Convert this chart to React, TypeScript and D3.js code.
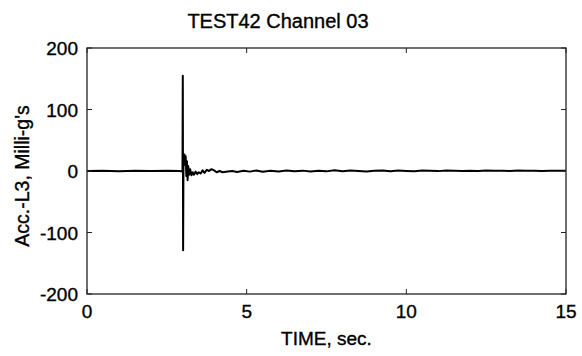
import React from "react";
import * as d3 from "d3";

const TITLE = "TEST42 Channel 03";
const X_LABEL = "TIME, sec.";
const Y_LABEL = "Acc.-L3, Milli-g's";
const X_TICKS = [0, 5, 10, 15];
const Y_TICKS = [-200, -100, 0, 100, 200];

const TIME = [
  0, 0.5, 1.0, 1.5, 2.0, 2.5, 2.9, 2.99, 3.0, 3.01,
  3.02, 3.03, 3.05, 3.07, 3.09, 3.11, 3.13, 3.15, 3.17, 3.2,
  3.23, 3.27, 3.31, 3.35, 3.4, 3.45, 3.5, 3.56, 3.62, 3.68,
  3.75, 3.82, 3.9, 3.98, 4.06, 4.15, 4.25, 4.4, 4.55, 4.7,
  4.9, 5.1, 5.3, 5.5, 5.75, 6.0, 6.25, 6.5, 6.75, 7.0,
  7.25, 7.5, 7.75, 8.0, 8.25, 8.5, 8.75, 9.0, 9.25, 9.5,
  9.75, 10.0, 10.25, 10.5, 10.75, 11.0, 11.25, 11.5, 11.75, 12.0,
  12.25, 12.5, 12.75, 13.0, 13.25, 13.5, 13.75, 14.0, 14.25, 14.5,
  14.75, 15.0,
];
const ACC = [
  0, 0.5, -0.3, 0.4, -0.2, 0.3, 0, -1, 155, -129,
  6, 18, 27, 10, 24, -8, 16, -15, 8, -6,
  3, -7, -2, -6, -1, -5, -2, -4, 1, -3,
  2, 0, 3, 1, -2, 0, -2, -1, 0, -1.5,
  0.5, -1, 0.8, -1.2, 0.3, -0.8, 1, -0.5, 0.6, -1,
  0.4, -0.6, 1.2, -0.4, 0.8, 0, -0.9, 0.5, 1, -0.3,
  0.7, 0.2, -0.5, 0.9, 0.4, -0.2, 0.8, 0.5, 0.1, 0.6,
  0.2, 0.9, 0.3, 0.5, 0.1, 0.7, 0.4, 0.6, 0.2, 0.5,
  0.3, 0.4,
];

const W = 582;
const H = 356;
const M = { left: 87, right: 566, top: 48, bottom: 294 };
const FONT = "'Liberation Sans', Arial, sans-serif";
const TXT = { fill: "#000", stroke: "#000", strokeWidth: 0.35 };

export default function App() {
  const x = d3.scaleLinear().domain([0, 15]).range([M.left, M.right]);
  const y = d3.scaleLinear().domain([-200, 200]).range([M.bottom, M.top]);
  const pts: [number, number][] = TIME.map((t, i) => [t, ACC[i]]);
  const line = d3
    .line<[number, number]>()
    .x((d) => x(d[0]))
    .y((d) => y(d[1]));
  const tl = 5;
  return (
    <svg
      width={W}
      height={H}
      style={{ position: "absolute", left: 0, top: 0, background: "#fff" }}
      fontFamily={FONT}
    >
      <rect x={0} y={0} width={W} height={H} fill="#fff" />
      <path d={line(pts) || ""} fill="none" stroke="#000" strokeWidth={2} strokeLinejoin="round" />
      <rect
        x={M.left}
        y={M.top}
        width={M.right - M.left}
        height={M.bottom - M.top}
        fill="none"
        stroke="#222"
        strokeWidth={1.3}
      />
      {X_TICKS.map((t) => (
        <g key={"x" + t}>
          <line x1={x(t)} x2={x(t)} y1={M.bottom} y2={M.bottom - tl} stroke="#222" />
          <line x1={x(t)} x2={x(t)} y1={M.top} y2={M.top + tl} stroke="#222" />
          <text x={x(t)} y={318} textAnchor="middle" fontSize={19} {...TXT}>
            {t}
          </text>
        </g>
      ))}
      {Y_TICKS.map((v) => (
        <g key={"y" + v}>
          <line x1={M.left} x2={M.left + tl} y1={y(v)} y2={y(v)} stroke="#222" />
          <line x1={M.right} x2={M.right - tl} y1={y(v)} y2={y(v)} stroke="#222" />
          <text x={78} y={y(v) + 7} textAnchor="end" fontSize={19} {...TXT}>
            {v}
          </text>
        </g>
      ))}
      <text x={278} y={28} textAnchor="middle" fontSize={20} {...TXT}>
        {TITLE}
      </text>
      <text x={(M.left + M.right) / 2} y={345} textAnchor="middle" fontSize={19} {...TXT}>
        {X_LABEL}
      </text>
      <text
        transform={`translate(29, ${(M.top + M.bottom) / 2 + 5}) rotate(-90)`}
        textAnchor="middle"
        fontSize={19.5}
        {...TXT}
      >
        {Y_LABEL}
      </text>
    </svg>
  );
}
